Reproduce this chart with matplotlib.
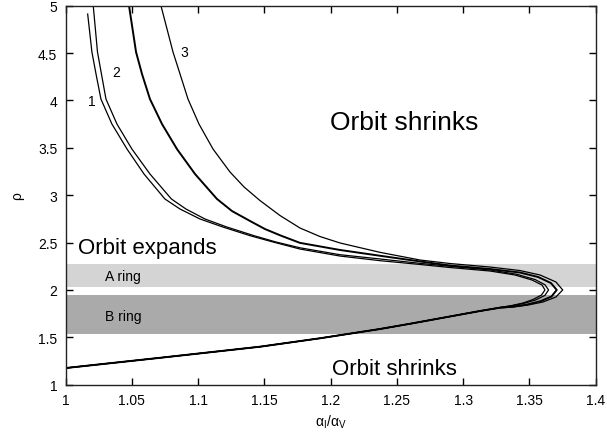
import matplotlib
matplotlib.use("Agg")
from matplotlib import pyplot as plt

plt.rcParams['font.family'] = ['Liberation Sans', 'DejaVu Sans']
plt.rcParams['mathtext.default'] = 'regular'

# ring bands (rho)
a_ring = (2.03, 2.27)
b_ring = (1.53, 1.95)

# upper branch + turnaround of each curve
curve_a_x = [1.0166, 1.0198, 1.0229, 1.0266, 1.0349, 1.0463, 1.0591, 1.0749,
             1.0863, 1.1014, 1.1187, 1.1391, 1.1565, 1.1768, 1.2070, 1.2372,
             1.2674, 1.2900, 1.3202, 1.3391, 1.3519, 1.3595, 1.3617, 1.3591,
             1.3527, 1.3451, 1.3368, 1.3278]
curve_a_rho = [4.912, 4.511, 4.279, 4.015, 3.751, 3.487, 3.224, 2.960,
               2.854, 2.749, 2.664, 2.573, 2.506, 2.432, 2.358, 2.309,
               2.269, 2.237, 2.200, 2.158, 2.105, 2.052, 2.000, 1.947,
               1.899, 1.862, 1.836, 1.815]

curve_b_x = [1.0208, 1.0240, 1.0270, 1.0304, 1.0387, 1.0500, 1.0636, 1.0798,
             1.0908, 1.1051, 1.1217, 1.1421, 1.1587, 1.1768, 1.2070, 1.2372,
             1.2674, 1.2900, 1.3202, 1.3406, 1.3542, 1.3617, 1.3644, 1.3617,
             1.3546, 1.3459, 1.3368, 1.3278]
curve_b_rho = [5.0, 4.511, 4.279, 4.015, 3.751, 3.487, 3.224, 2.960,
               2.854, 2.749, 2.664, 2.573, 2.506, 2.445, 2.372, 2.327,
               2.281, 2.250, 2.211, 2.165, 2.110, 2.055, 2.000, 1.943,
               1.894, 1.859, 1.833, 1.815]

curve_c_x = [1.0478, 1.0531, 1.0576, 1.0636, 1.0727, 1.0840, 1.0976, 1.1142,
             1.1255, 1.1391, 1.1504, 1.1625, 1.1768, 1.2070, 1.2372, 1.2674,
             1.2900, 1.3202, 1.3428, 1.3565, 1.3662, 1.3706, 1.3666, 1.3587,
             1.3482, 1.3376, 1.3278]
curve_c_rho = [5.0, 4.511, 4.279, 4.015, 3.751, 3.487, 3.224, 2.960,
               2.833, 2.728, 2.643, 2.573, 2.497, 2.422, 2.361, 2.301,
               2.258, 2.221, 2.184, 2.137, 2.073, 2.000, 1.931, 1.883,
               1.846, 1.824, 1.813]

curve_e_x = [1.0719, 1.0810, 1.0863, 1.0923, 1.1006, 1.1112, 1.1240, 1.1346,
             1.1466, 1.1617, 1.1768, 1.1919, 1.2070, 1.2372, 1.2674, 1.2900,
             1.3202, 1.3428, 1.3580, 1.3700, 1.3751, 1.3700, 1.3602, 1.3489,
             1.3376, 1.3278]
curve_e_rho = [5.0, 4.511, 4.279, 4.015, 3.751, 3.487, 3.245, 3.087,
               2.944, 2.786, 2.654, 2.564, 2.496, 2.397, 2.316, 2.279,
               2.242, 2.205, 2.158, 2.084, 2.000, 1.926, 1.873, 1.841,
               1.820, 1.811]

# shared lower branch (all curves merge into it)
lower_x = [1.3127, 1.2900, 1.2598, 1.2372, 1.1919, 1.1466, 1.0712, 1.0]
lower_rho = [1.778, 1.720, 1.643, 1.588, 1.490, 1.401, 1.284, 1.176]

curves = [
    (curve_a_x, curve_a_rho, 0.9),
    (curve_b_x, curve_b_rho, 0.9),
    (curve_c_x, curve_c_rho, 1.4),
    (curve_e_x, curve_e_rho, 0.9),
]

curve_labels = ["1", "2", "3"]
label_pos = [(1.0196, 3.997), (1.0380, 4.303), (1.0893, 4.508)]


def main():
    fig = plt.figure(figsize=(6.07, 4.35), dpi=100)
    ax = fig.add_axes([0.1082, 0.1133, 0.8732, 0.8713])

    ax.axhspan(a_ring[0], a_ring[1], color='#d4d4d4', lw=0, zorder=0)
    ax.axhspan(b_ring[0], b_ring[1], color='#aaaaaa', lw=0, zorder=0)

    for cx, cr, lw in curves:
        ax.plot(cx + lower_x, cr + lower_rho, color='black', lw=lw, zorder=2,
                solid_joinstyle='round')

    for lab, (lx, ly) in zip(curve_labels, label_pos):
        ax.text(lx, ly, lab, fontsize=10, ha='center', va='center')

    ax.text(1.1995, 3.772, "Orbit shrinks", fontsize=19, ha='left', va='center')
    ax.text(1.0095, 2.45, "Orbit expands", fontsize=16, ha='left', va='center')
    ax.text(1.201, 1.17, "Orbit shrinks", fontsize=16, ha='left', va='center')
    ax.text(1.030, 2.15, "A ring", fontsize=10, ha='left', va='center')
    ax.text(1.030, 1.72, "B ring", fontsize=10, ha='left', va='center')

    ax.set_xlim(1.0, 1.4)
    ax.set_ylim(1.0, 5.0)
    ax.set_xticks([1, 1.05, 1.1, 1.15, 1.2, 1.25, 1.3, 1.35, 1.4])
    ax.set_xticklabels(['1', '1.05', '1.1', '1.15', '1.2', '1.25', '1.3', '1.35', '1.4'])
    ax.set_yticks([1, 1.5, 2, 2.5, 3, 3.5, 4, 4.5, 5])
    ax.set_yticklabels(['1', '1.5', '2', '2.5', '3', '3.5', '4', '4.5', '5'])
    ax.tick_params(direction='in', length=5, width=1, top=True, right=True,
                   labelsize=10, pad=6)
    for s in ax.spines.values():
        s.set_linewidth(1)
        s.set_color('#222222')

    ax.set_xlabel(r'$\alpha_I/\alpha_V$', fontsize=10, labelpad=4)
    ax.set_ylabel(r'$\rho$', fontsize=10, labelpad=8)

    plt.savefig("out.png", dpi=100)


if __name__ == "__main__":
    main()
